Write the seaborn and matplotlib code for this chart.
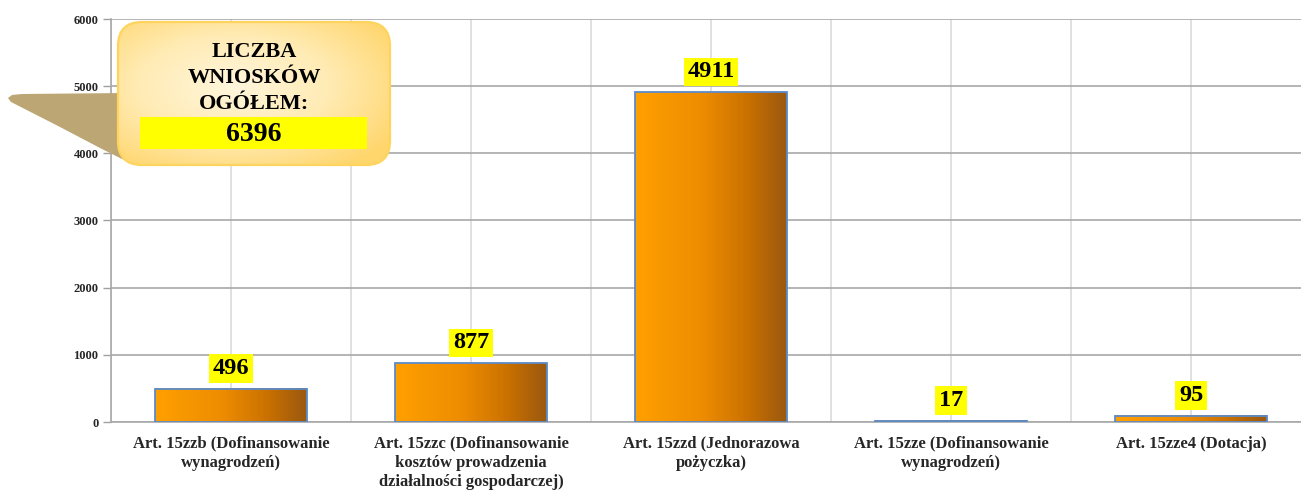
import numpy as np
import pandas as pd
import matplotlib
matplotlib.use("Agg")
import matplotlib.pyplot as plt
import seaborn as sns
from matplotlib.colors import LinearSegmentedColormap
from matplotlib.patches import FancyBboxPatch, Polygon, Rectangle

# --- data -------------------------------------------------------------
categories = [
    "Art. 15zzb (Dofinansowanie\nwynagrodzeń)",
    "Art. 15zzc (Dofinansowanie\nkosztów prowadzenia\ndziałalności gospodarczej)",
    "Art. 15zzd (Jednorazowa\npożyczka)",
    "Art. 15zze (Dofinansowanie\nwynagrodzeń)",
    "Art. 15zze4 (Dotacja)",
]
values = [496, 877, 4911, 17, 95]
y_ticks = [0, 1000, 2000, 3000, 4000, 5000, 6000]
callout_lines = ["LICZBA", "WNIOSKÓW", "OGÓŁEM:"]
total_label = "6396"

# --- style ------------------------------------------------------------
sns.set_theme(style="white")
plt.rcParams["font.family"] = ["Liberation Serif", "DejaVu Serif"]
plt.rcParams["font.weight"] = "bold"

W, H = 1301, 490
fig = plt.figure(figsize=(W / 100, H / 100), dpi=100)
fig.patch.set_facecolor("white")
ax = fig.add_axes([111 / W, 1 - 422 / H, 1200 / W, 403 / H])

df = pd.DataFrame({"kategoria": categories, "wnioski": values})
sns.barplot(data=df, x="kategoria", y="wnioski", ax=ax, width=0.63,
            color="#F39200", edgecolor="#5B8BC9", linewidth=1.3,
            saturation=1, zorder=3)

# horizontal orange -> brown gradient inside every bar
bar_cmap = LinearSegmentedColormap.from_list(
    "bar", [(0.0, "#FFA000"), (0.45, "#EE8C00"), (0.75, "#C87000"), (1.0, "#9A5810")])
grad = np.linspace(0, 1, 256).reshape(1, -1)
for patch in ax.patches:
    x0, w, h = patch.get_x(), patch.get_width(), patch.get_height()
    ax.imshow(grad, extent=[x0, x0 + w, 0, h], aspect="auto", cmap=bar_cmap,
              origin="lower", zorder=3.5, interpolation="bilinear")
    patch.set_facecolor("none")
    patch.set_zorder(4)

ax.set_xlim(-0.5, len(categories) - 0.5)
ax.set_ylim(0, 6000)
ax.set_yticks(y_ticks)
ax.set_yticklabels([str(t) for t in y_ticks], fontsize=9, fontweight="bold")
ax.set_xticks(range(len(categories)))
ax.set_xticklabels(categories, fontsize=12, fontweight="bold", linespacing=1.25)
ax.set_xticks(np.arange(-0.5, len(categories), 1), minor=True)
ax.set_xlabel("")
ax.set_ylabel("")

ax.set_axisbelow(True)
ax.yaxis.grid(True, color="#A8A8A8", linewidth=1.2)
ax.xaxis.grid(True, which="both", color="#DADADA", linewidth=1.2)
ax.tick_params(axis="x", which="major", length=0, pad=10)
ax.tick_params(axis="x", which="minor", length=6, color="#A0A0A0", width=1)
ax.tick_params(axis="y", length=6, color="#A0A0A0", width=1, pad=3, left=True)
for side in ("top", "right"):
    ax.spines[side].set_visible(False)
for side in ("left", "bottom"):
    ax.spines[side].set_color("#A8A8A8")
    ax.spines[side].set_linewidth(1.2)

# value labels on yellow highlight
for i, v in enumerate(values):
    ax.annotate(f"{v}", xy=(i, v), xytext=(0, 7), textcoords="offset points",
                ha="center", va="bottom", fontsize=17.5, fontweight="bold",
                color="black", zorder=6,
                bbox=dict(boxstyle="square,pad=0.15", fc="#FFFF00", ec="none"))

# --- callout with the overall total ------------------------------------
oax = fig.add_axes([0, 0, 1, 1], zorder=10)
oax.set_xlim(0, W)
oax.set_ylim(H, 0)
oax.axis("off")

tail = Polygon([(126, 93), (22, 94), (12, 95), (8, 98), (11, 102),
                (60, 127), (100, 148), (122, 159), (138, 164), (160, 164)],
               closed=True, fc="#BCA774", ec="none", zorder=1)
oax.add_patch(tail)

bx, by, bw, bh = 118, 22, 272, 143
box = FancyBboxPatch((bx, by), bw, bh,
                     boxstyle="round,pad=0,rounding_size=24",
                     fc="none", ec="#FFD45E", lw=1.6, zorder=3)
oax.add_patch(box)
gx = np.linspace(-1, 1, 200)
gy = np.linspace(-1, 1, 120)
GX, GY = np.meshgrid(gx, gy)
radial = np.clip(np.sqrt((GX + 0.15) ** 2 + (GY + 0.1) ** 2) / 1.4, 0, 1)
box_cmap = LinearSegmentedColormap.from_list("box", ["#FFF6DC", "#FFEBB4", "#FFD66C"])
im = oax.imshow(radial, extent=[bx, bx + bw, by + bh, by], cmap=box_cmap,
                aspect="auto", zorder=2, interpolation="bilinear")
im.set_clip_path(box)
oax.set_xlim(0, W)
oax.set_ylim(H, 0)

for k, line in enumerate(callout_lines):
    oax.text(254, 52 + 26 * k, line, ha="center", va="center",
             fontsize=16, fontweight="bold", color="black", zorder=5)
oax.add_patch(Rectangle((140, 117), 227, 32, fc="#FFFF00", ec="none", zorder=4))
oax.text(254, 134, total_label, ha="center", va="center",
         fontsize=20, fontweight="bold", color="black", zorder=5)

fig.savefig("out.png", dpi=100)
